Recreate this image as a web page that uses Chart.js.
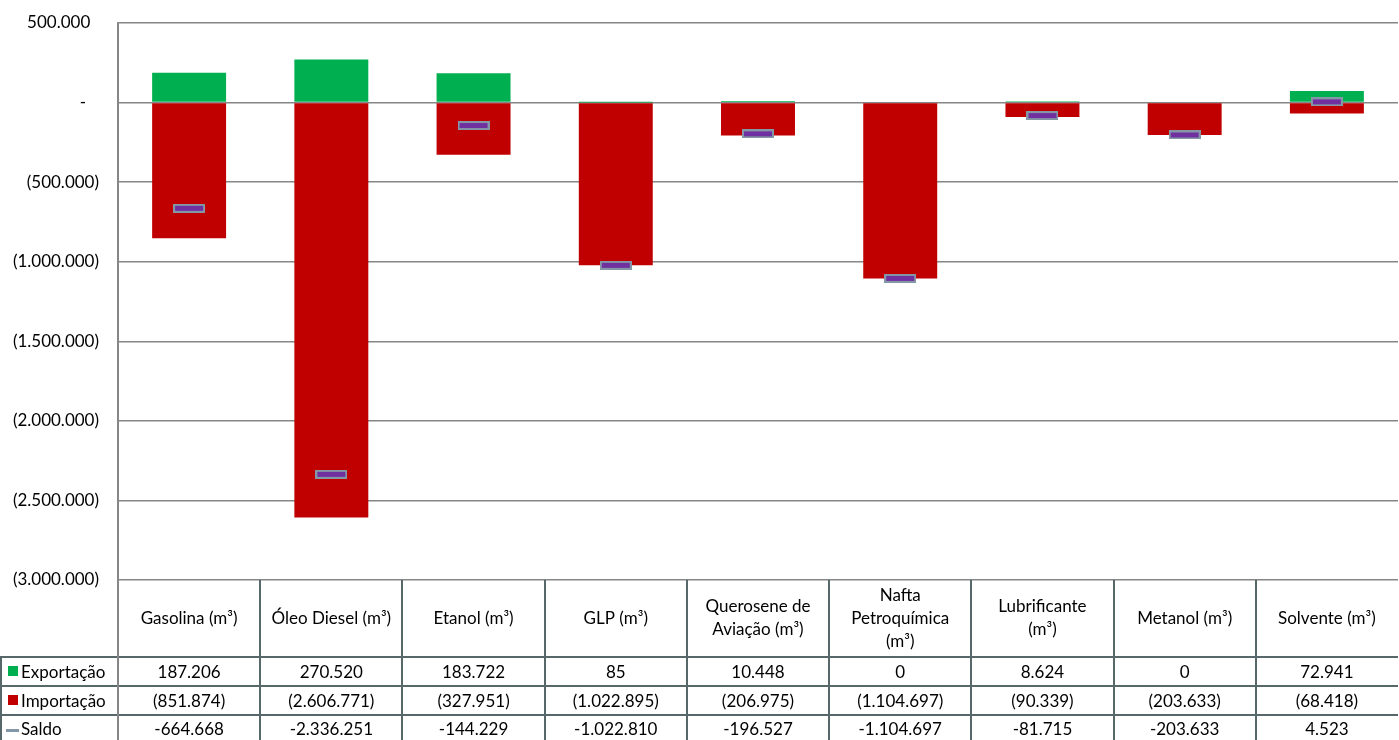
<!DOCTYPE html>
<html>
<head>
<meta charset="utf-8">
<script src="https://cdn.jsdelivr.net/npm/chart.js@4"></script>
<style>
  html, body { margin: 0; padding: 0; background: #fff; overflow: hidden; }
  #chart { display: block; }
</style>
</head>
<body>
<canvas id="chart" width="1399" height="740"></canvas>
<script>
// categorias e séries
const categorias = ['Gasolina (m³)', 'Óleo Diesel (m³)', 'Etanol (m³)', 'GLP (m³)', 'Querosene de\nAviação (m³)',
  'Nafta\nPetroquímica\n(m³)', 'Lubrificante\n(m³)', 'Metanol (m³)', 'Solvente (m³)'];
const exportacao = [187206, 270520, 183722, 85, 10448, 0, 8624, 0, 72941];
const importacao = [-851874, -2606771, -327951, -1022895, -206975, -1104697, -90339, -203633, -68418];
const saldo = [-664668, -2336251, -144229, -1022810, -196527, -1104697, -81715, -203633, 4523];
const ticksY = [500000, 0, -500000, -1000000, -1500000, -2000000, -2500000, -3000000];

const FONT = 'Lato, "Open Sans", sans-serif';
const COR_EXP = '#00B050';
const COR_IMP = '#C00000';
const COR_GRADE = '#868686';
const COR_TABELA = '#56686a';

function pontos(v) {
  return Math.abs(v).toString().replace(/\B(?=(\d{3})+(?!\d))/g, '.');
}
function fmtEixo(v) {
  if (v === 0) return '-   ';
  if (v < 0) return '(' + pontos(v) + ')';
  return pontos(v) + '  ';
}

// marcador do saldo (traço roxo com borda)
const marcador = document.createElement('canvas');
marcador.width = 32; marcador.height = 9;
(function () {
  const c = marcador.getContext('2d');
  c.fillStyle = '#8497a6';
  c.fillRect(0, 0, 32, 9);
  c.fillStyle = '#7030A0';
  c.fillRect(2, 2, 28, 5);
})();

// tabela de dados abaixo do gráfico
const tabelaPlugin = {
  id: 'tabela',
  afterDraw(chart) {
    const ctx = chart.ctx;
    const a = chart.chartArea;
    const x = chart.scales.x;
    const n = categorias.length;
    const colW = (a.right - a.left) / n;
    const yHead = a.bottom, yR1 = 657, yR2 = 686, yR3 = 715, yEnd = 742;
    ctx.save();
    ctx.strokeStyle = COR_TABELA;
    ctx.lineWidth = 2;
    ctx.beginPath();
    for (let i = 1; i < n; i++) {
      const xx = Math.round(a.left + i * colW);
      ctx.moveTo(xx, yHead); ctx.lineTo(xx, yEnd);
    }
    [yR1, yR2, yR3].forEach(y => { ctx.moveTo(0, y); ctx.lineTo(a.right, y); });
    ctx.moveTo(1, yR1); ctx.lineTo(1, yEnd);
    ctx.stroke();
    // eixo esquerdo prolongado
    ctx.strokeStyle = COR_GRADE;
    ctx.beginPath();
    ctx.moveTo(a.left, a.top); ctx.lineTo(a.left, yEnd);
    ctx.stroke();

    ctx.fillStyle = '#000';
    ctx.font = '17px ' + FONT;
    ctx.textAlign = 'center';
    ctx.textBaseline = 'middle';
    categorias.forEach((c, i) => {
      const cx = x.getPixelForValue(i);
      const linhas = c.split('\n');
      const y0 = (yHead + yR1) / 2 - (linhas.length - 1) * 23 / 2;
      linhas.forEach((l, k) => ctx.fillText(l, cx, y0 + k * 23));
      ctx.fillText(pontos(exportacao[i]), cx, (yR1 + yR2) / 2 + 1);
      ctx.fillText('(' + pontos(importacao[i]) + ')', cx, (yR2 + yR3) / 2 + 1);
      ctx.fillText((saldo[i] < 0 ? '-' : '') + pontos(saldo[i]), cx, (yR3 + yEnd) / 2 + 1);
    });

    // legenda
    ctx.textAlign = 'left';
    ctx.fillStyle = COR_EXP; ctx.fillRect(8, 666, 10, 10);
    ctx.fillStyle = COR_IMP; ctx.fillRect(8, 695, 10, 10);
    ctx.fillStyle = '#8497a6'; ctx.fillRect(6, 729, 13, 3);
    ctx.fillStyle = '#000';
    ctx.fillText('Exportação', 21, (yR1 + yR2) / 2 + 1);
    ctx.fillText('Importação', 21, (yR2 + yR3) / 2 + 1);
    ctx.fillText('Saldo', 21, (yR3 + yEnd) / 2 + 1);
    ctx.restore();
  }
};

new Chart(document.getElementById('chart'), {
  data: {
    labels: categorias,
    datasets: [
      {
        type: 'line', label: 'Saldo', data: saldo, order: 0, stack: 'saldo',
        showLine: false, pointStyle: marcador, pointRadius: 10, pointHoverRadius: 10,
      },
      {
        type: 'bar', label: 'Exportação', data: exportacao, order: 1, stack: 'ei',
        backgroundColor: COR_EXP, barPercentage: 0.52, categoryPercentage: 1,
      },
      {
        type: 'bar', label: 'Importação', data: importacao, order: 1, stack: 'ei',
        backgroundColor: COR_IMP, barPercentage: 0.52, categoryPercentage: 1,
      },
    ],
  },
  options: {
    responsive: false,
    animation: false,
    layout: { autoPadding: false, padding: { top: 23, right: 1, bottom: 160, left: 0 } },
    plugins: { legend: { display: false }, tooltip: { enabled: false } },
    scales: {
      x: { display: false, stacked: true },
      y: {
        stacked: true,
        min: -3000000, max: 500000,
        afterFit(s) {
          s.width = 118;
          s.paddingTop = 0; s.paddingBottom = 0; s.paddingLeft = 0; s.paddingRight = 0;
        },
        afterBuildTicks(s) { s.ticks = ticksY.map(v => ({ value: v })); },
        grid: { color: COR_GRADE, lineWidth: 1.5, drawTicks: false },
        border: { color: COR_GRADE, width: 1.5 },
        ticks: {
          padding: 19,
          color: '#000',
          font: { family: FONT, size: 17 },
          callback: v => fmtEixo(v),
        },
      },
    },
  },
  plugins: [tabelaPlugin],
});
</script>
</body>
</html>
